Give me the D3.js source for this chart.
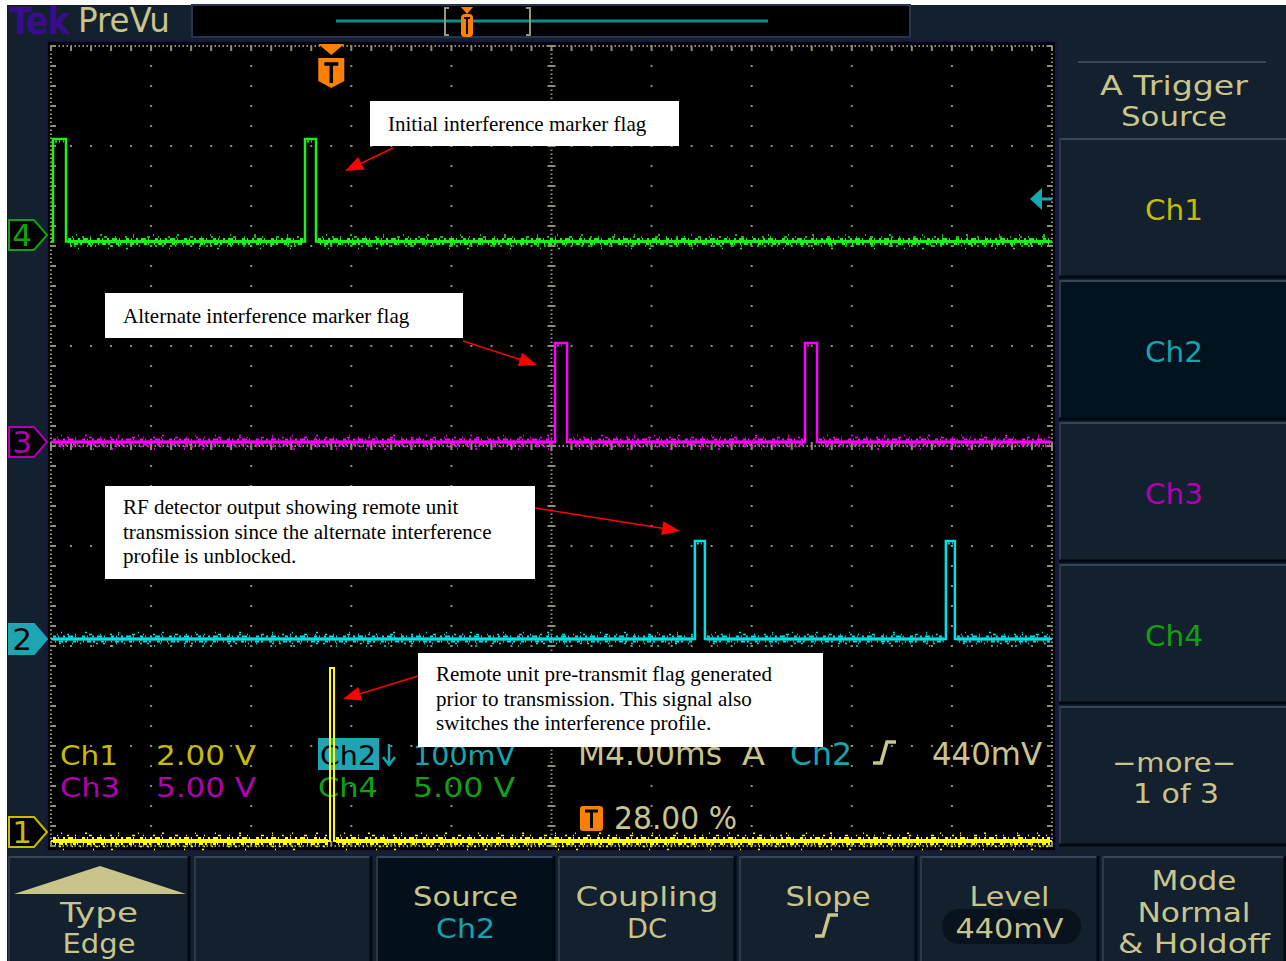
<!DOCTYPE html>
<html><head><meta charset="utf-8">
<script src="https://cdn.jsdelivr.net/npm/d3@7"></script>
<style>
html,body{margin:0;padding:0;background:#fff;}
svg{display:block;}
.tek{font-family:"DejaVu Sans Condensed","DejaVu Sans",sans-serif;font-stretch:condensed;}
.wide{font-family:"DejaVu Sans",Verdana,sans-serif;}
.ann{font-family:"Liberation Serif","Times New Roman",serif;}
</style></head><body>
<svg id="c" width="1286" height="961"></svg>
<script>
// ---------------- data ----------------
const timeDomain = [-11.2, 28.8];           // ms, trigger at t = 0
const channelNames = ["Ch1", "Ch2", "Ch3", "Ch4"];
const voltsPerDiv = [2, 0.1, 5, 5];
const scaleLabels = ["2.00 V", "100mV", "5.00 V", "5.00 V"];
const groundDiv = [-3.86, -1.93, 0.04, 2.11];
const lowVolts = [-0.18, 0.0, 0.0, -0.33];
const highVolts = [3.28, 0.098, 4.95, 4.8];
const ch1Pulses = [[-0.05, 0.11]];
const ch2Pulses = [[14.53, 14.93], [24.56, 24.92]];
const ch3Pulses = [[8.94, 9.42], [18.93, 19.41]];
const ch4Pulses = [[-11.12, -10.60], [-1.05, -0.61]];
const triggerLevelVolts = 0.44;
const triggerPercent = "28.00 %";
const timebaseLabel = "M4.00ms";
const levelLabel = "440mV";
const sideMenu = ["Ch1", "Ch2", "Ch3", "Ch4"];
const bottomMenu = [["Type", "Edge"], [], ["Source", "Ch2"], ["Coupling", "DC"], ["Slope"], ["Level", "440mV"], ["Mode", "Normal", "& Holdoff"]];
const annotationTexts = [
  ["Initial interference marker flag"],
  ["Alternate interference marker flag"],
  ["RF detector output showing remote unit", "transmission since the alternate interference", "profile is unblocked."],
  ["Remote unit pre-transmit flag generated", "prior to transmission.  This signal also", "switches the interference profile."]
];

// ---------------- style / layout ----------------
const colors = {
  trace: ["#ffff00", "#00e0e6", "#ff00ff", "#1ef01e"],
  label: ["#c8bc00", "#16a4ae", "#b000b2", "#12a012"],
  khaki: "#c9c48c", bg: "#13202e", grid: "#8e8e72", orange: "#ff8000"
};
const X0 = 51, X1 = 1052, Y0 = 46, Y1 = 846;
const svg = d3.select("#c");
const xScale = d3.scaleLinear().domain(timeDomain).range([X0, X1]);
const divX = d3.scaleLinear().domain([0, 10]).range([X0, X1]);
const divY = d3.scaleLinear().domain([-4, 4]).range([Y1, Y0]);
const chY = (i, v) => divY(groundDiv[i] + v / voltsPerDiv[i]);

function txt(sel, x, y, s, o) {
  const t = sel.append("text").attr("x", x).attr("y", y).text(s);
  if (o.size) t.attr("font-size", o.size);
  if (o.fill) t.attr("fill", o.fill);
  if (o.anchor) t.attr("text-anchor", o.anchor);
  if (o.w) t.attr("textLength", o.w).attr("lengthAdjust", "spacingAndGlyphs");
  return t;
}

// background
svg.append("rect").attr("width", 1286).attr("height", 961).attr("fill", "#fff");
svg.append("rect").attr("x", 7).attr("y", 5).attr("width", 1279).attr("height", 956).attr("fill", colors.bg);

// top bar
svg.append("text").attr("class", "tek").attr("x", 9).attr("y", 34).attr("font-size", 37).attr("font-weight", "bold")
  .attr("fill", "#3a0c8e").attr("letter-spacing", -1).text("Tek");
txt(svg.append("g").attr("class", "tek"), 78, 32, "PreVu", { size: 33, fill: colors.khaki, w: 92 });
svg.append("rect").attr("x", 192).attr("y", 5).attr("width", 718).attr("height", 32).attr("fill", "#000").attr("stroke", "#26364a").attr("stroke-width", 2);
svg.append("line").attr("x1", 336).attr("x2", 768).attr("y1", 21).attr("y2", 21).attr("stroke", "#0d8c8c").attr("stroke-width", 3);
svg.append("path").attr("d", "M449,8 L445,8 L445,35 L449,35 M526,8 L530,8 L530,35 L526,35").attr("fill", "none").attr("stroke", "#9a9672").attr("stroke-width", 2);
svg.append("path").attr("d", "M461,7 L473,7 L467,14 Z").attr("fill", colors.orange);
svg.append("rect").attr("x", 461).attr("y", 14).attr("width", 12).attr("height", 23).attr("rx", 4).attr("fill", colors.orange);
svg.append("path").attr("d", "M464,18 L470,18 M467,18 L467,34").attr("stroke", "#000").attr("stroke-width", 2);

// plot area
svg.append("rect").attr("x", X0 - 4).attr("y", Y0 - 5).attr("width", X1 - X0 + 8).attr("height", Y1 - Y0 + 10)
  .attr("fill", "#000").attr("stroke", "#161640").attr("stroke-width", 2);

// grid
const g = svg.append("g").attr("fill", colors.grid);
const sub = d3.range(0, 40.001, 1);
d3.range(1, 10).forEach(i => {
  if (i === 5) return;
  sub.forEach(k => g.append("rect").attr("x", divX(i) - 1).attr("y", divY(-4 + k * 0.2) - 1).attr("width", 2).attr("height", 2));
});
const subX = d3.range(0, 50.001, 1);
d3.range(-3, 4).forEach(j => {
  if (j === 0) return;
  subX.forEach(k => g.append("rect").attr("x", divX(k * 0.2) - 1).attr("y", divY(j) - 1).attr("width", 2).attr("height", 2));
});
d3.range(Y0, Y1 + 1, 4).forEach(y => {
  [divX(5), X0, X1].forEach(x => g.append("rect").attr("x", x - 1).attr("y", y - 0.5).attr("width", 2).attr("height", 1.5));
});
d3.range(X0, X1 + 1, 4).forEach(x => {
  [divY(0), Y0, Y1].forEach(y => g.append("rect").attr("x", x - 0.5).attr("y", y - 1).attr("width", 1.5).attr("height", 2));
});
sub.forEach(k => {
  const y = divY(-4 + k * 0.2);
  g.append("rect").attr("x", divX(5) - 4).attr("y", y - 1).attr("width", 8).attr("height", 2);
  g.append("rect").attr("x", X0).attr("y", y - 1).attr("width", 5).attr("height", 2);
  g.append("rect").attr("x", X1 - 5).attr("y", y - 1).attr("width", 5).attr("height", 2);
});
subX.forEach(k => {
  const x = divX(k * 0.2);
  g.append("rect").attr("x", x - 1).attr("y", divY(0) - 4).attr("width", 2).attr("height", 8);
  g.append("rect").attr("x", x - 1).attr("y", Y0).attr("width", 2).attr("height", 5);
  g.append("rect").attr("x", x - 1).attr("y", Y1 - 5).attr("width", 2).attr("height", 5);
});

// readouts
const ro = svg.append("g").attr("class", "tek").attr("font-size", 27.4);
txt(ro, 60, 765, channelNames[0], { fill: colors.label[0], w: 58 });
txt(ro, 60, 797, channelNames[2], { fill: colors.label[2], w: 60 });
txt(ro, 156, 765, scaleLabels[0], { fill: colors.label[0], w: 100 });
txt(ro, 156, 797, scaleLabels[2], { fill: colors.label[2], w: 100 });
ro.append("rect").attr("x", 318).attr("y", 738).attr("width", 61).attr("height", 32).attr("fill", "#1ea4b2");
txt(ro, 320, 765, channelNames[1], { fill: "#000", w: 56 });
txt(ro, 318, 797, channelNames[3], { fill: colors.label[3], w: 60 });
ro.append("path").attr("d", "M389,744 L389,764 M383,757 L389,765 L395,757").attr("fill", "none").attr("stroke", colors.label[1]).attr("stroke-width", 2.5);
txt(ro, 413, 765, scaleLabels[1], { fill: colors.label[1], w: 102 });
txt(ro, 413, 797, scaleLabels[3], { fill: colors.label[3], w: 102 });
const ro2 = svg.append("g").attr("class", "tek").attr("font-size", 32);
txt(ro2, 578, 765, timebaseLabel, { fill: colors.khaki, w: 144 });
txt(ro2, 742, 765, "A", { fill: colors.khaki, w: 23 });
txt(ro2, 790, 765, channelNames[1], { fill: colors.label[1], w: 62 });
ro2.append("path").attr("d", "M873,763 L881,763 L887,742 L896,742").attr("fill", "none").attr("stroke", colors.khaki).attr("stroke-width", 3.5);
txt(ro2, 932, 765, levelLabel, { fill: colors.khaki, w: 110 });
ro2.append("rect").attr("x", 580).attr("y", 806).attr("width", 23).attr("height", 25).attr("rx", 3).attr("fill", colors.orange);
ro2.append("path").attr("d", "M585,811 L598,811 M591.5,811 L591.5,828").attr("stroke", "#000").attr("stroke-width", 3);
txt(ro2, 614, 829, triggerPercent, { fill: colors.khaki, w: 123 });

// traces
const pulses = [ch1Pulses, ch2Pulses, ch3Pulses, ch4Pulses];
const line = d3.line();
// noise band styling: [offset px, stroke width, dash pattern]
const noiseStyle = [
  [-2.5, 2, "3 2 1 4 2 3 5 2 1 6"], [2.5, 2, "1 3 4 2 2 6 3 1 1 5"],
  [-4.5, 1.5, "1 9 2 6 1 13 3 8"], [4.5, 1.5, "2 11 1 7 1 15 2 5"],
  [-6.5, 1.5, "1 23 2 31 1 19"], [7, 1.5, "1 29 1 17 2 41"]
];
pulses.forEach((pl, i) => {
  const pts = [[timeDomain[0], lowVolts[i]]];
  pl.forEach(([a, b]) => { pts.push([a, lowVolts[i]], [a, highVolts[i]], [b, highVolts[i]], [b, lowVolts[i]]); });
  pts.push([timeDomain[1], lowVolts[i]]);
  const xy = pts.map(d => [xScale(d[0]), chY(i, d[1])]);
  svg.append("path").attr("d", line(xy)).attr("fill", "none").attr("stroke", colors.trace[i])
    .attr("stroke-width", i === 0 ? 2 : 2.5).attr("stroke-linejoin", "miter");
  const edges = [timeDomain[0]].concat(pl.flat()).concat([timeDomain[1]]);
  const amp = i === 0 ? 1.2 : 1;
  for (let k = 0; k < edges.length; k += 2) {
    const xa = xScale(edges[k]) + 2, xb = xScale(edges[k + 1]) - 2;
    if (xb - xa < 4) continue;
    const y = chY(i, lowVolts[i]);
    svg.append("line").attr("x1", xa).attr("x2", xb).attr("y1", y).attr("y2", y).attr("stroke", colors.trace[i]).attr("stroke-width", i === 0 ? 4 : 3);
    noiseStyle.forEach(([off, sw, da], m) => {
      svg.append("line").attr("x1", xa + m * 2).attr("x2", xb).attr("y1", y + off * amp).attr("y2", y + off * amp)
        .attr("stroke", colors.trace[i]).attr("stroke-width", sw).attr("stroke-dasharray", da);
    });
  }
  // slight ripple on pulse tops
  pl.forEach(([a, b]) => {
    const xa = xScale(a) + 2, xb = xScale(b) - 2, y = chY(i, highVolts[i]);
    if (xb - xa < 3) return;
    svg.append("line").attr("x1", xa).attr("x2", xb).attr("y1", y + 2.5).attr("y2", y + 2.5).attr("stroke", colors.trace[i])
      .attr("stroke-width", 2).attr("stroke-dasharray", "2 2 1 3");
  });
});

// ground markers
const markerPath = (y) => `M9,${y - 15} L34,${y - 15} L47,${y} L34,${y + 15} L9,${y + 15} Z`;
[3, 2, 1, 0].forEach(i => {
  const y = divY(groundDiv[i]);
  const filled = i === 1;
  svg.append("path").attr("d", markerPath(y)).attr("fill", filled ? "#1ea4b2" : "#000")
    .attr("stroke", filled ? "#1ea4b2" : colors.label[i]).attr("stroke-width", 2);
  svg.append("text").attr("class", "wide").attr("x", 22).attr("y", y + 11).attr("text-anchor", "middle").attr("font-size", 31)
    .attr("fill", filled ? "#000" : colors.label[i]).text(String(i + 1));
});

// trigger position marker
const tx = xScale(0);
svg.append("path").attr("d", `M${tx - 13},${Y0 - 2} L${tx + 13},${Y0 - 2} L${tx},${Y0 + 9} Z`).attr("fill", colors.orange);
svg.append("path").attr("d", `M${tx - 13},${Y0 + 12} L${tx + 13},${Y0 + 12} L${tx + 13},${Y0 + 35} L${tx},${Y0 + 42} L${tx - 13},${Y0 + 35} Z`).attr("fill", colors.orange);
svg.append("path").attr("d", `M${tx - 7},${Y0 + 18} L${tx + 7},${Y0 + 18} M${tx},${Y0 + 18} L${tx},${Y0 + 37}`).attr("stroke", "#000").attr("stroke-width", 3.5);

// trigger level marker (Ch2)
const ty = chY(1, triggerLevelVolts);
svg.append("path").attr("d", `M${X1 - 22},${ty} L${X1 - 10},${ty - 11} L${X1 - 10},${ty + 11} Z`).attr("fill", "#18a8b4");
svg.append("line").attr("x1", X1 - 12).attr("x2", X1).attr("y1", ty).attr("y2", ty).attr("stroke", "#18a8b4").attr("stroke-width", 3);

// right-side menu
const rm = svg.append("g").attr("class", "wide").attr("text-anchor", "middle");
rm.append("line").attr("x1", 1078).attr("x2", 1266).attr("y1", 62).attr("y2", 62).attr("stroke", "#3a4656").attr("stroke-width", 2);
txt(rm, 1174, 95, "A Trigger", { size: 26.5, fill: colors.khaki, w: 148 });
txt(rm, 1174, 126, "Source", { size: 26.5, fill: colors.khaki, w: 106 });
const sideTop = [138, 280, 422, 564, 706];
sideMenu.concat(["more"]).forEach((lab, k) => {
  const y = sideTop[k];
  rm.append("rect").attr("x", 1059).attr("y", y).attr("width", 227).attr("height", 139).attr("fill", k === 1 ? "#00131f" : "#13202e");
  rm.append("line").attr("x1", 1059).attr("x2", 1286).attr("y1", y + 1).attr("y2", y + 1).attr("stroke", "#34465a").attr("stroke-width", 2);
  rm.append("line").attr("x1", 1060).attr("x2", 1060).attr("y1", y).attr("y2", y + 139).attr("stroke", "#2a3a4c").attr("stroke-width", 2);
  rm.append("line").attr("x1", 1059).attr("x2", 1286).attr("y1", y + 139).attr("y2", y + 139).attr("stroke", "#000814").attr("stroke-width", 3);
  if (k < 4) {
    txt(rm, 1174, y + 82, lab, { size: 29, fill: colors.label[k], w: 58 });
  } else {
    txt(rm, 1174, y + 66, "\u2212more\u2212", { size: 26.5, fill: colors.khaki, w: 124 });
    txt(rm, 1176, y + 97, "1 of 3", { size: 26.5, fill: colors.khaki, w: 86 });
  }
});

// bottom menu
const bm = svg.append("g").attr("class", "tek").attr("font-size", 27).attr("text-anchor", "middle").attr("fill", colors.khaki);
const bx = [[8, 190], [194, 372], [376, 555], [558, 736], [739, 917], [920, 1099], [1102, 1286]];
const labelWidths = [[78, 73], [], [105, 59], [143, 40], [85], [80, 108], [85, 113, 152]];
bx.forEach(([a, b], k) => {
  const cx = (a + b) / 2;
  bm.append("rect").attr("x", a).attr("y", 856).attr("width", b - a).attr("height", 105).attr("fill", k === 2 ? "#03101c" : "#13202e");
  bm.append("line").attr("x1", a).attr("x2", b).attr("y1", 857).attr("y2", 857).attr("stroke", "#34465a").attr("stroke-width", 2);
  bm.append("line").attr("x1", a + 1).attr("x2", a + 1).attr("y1", 856).attr("y2", 961).attr("stroke", "#2a3a4c").attr("stroke-width", 2);
  bm.append("line").attr("x1", b - 1).attr("x2", b - 1).attr("y1", 856).attr("y2", 961).attr("stroke", "#000814").attr("stroke-width", 3);
  const lab = bottomMenu[k], ws = labelWidths[k];
  let ys;
  if (k === 0) {
    bm.append("path").attr("d", `M14,894 L186,894 L100,866 Z`).attr("fill", colors.khaki);
    ys = [922, 953];
  } else if (k === 6) {
    ys = [890, 921.5, 953];
  } else {
    ys = [906, 938];
  }
  if (k === 5) bm.append("rect").attr("x", 942).attr("y", 909).attr("width", 139).attr("height", 35).attr("rx", 17).attr("fill", "#08131e");
  if (k === 4) bm.append("path").attr("d", `M${cx - 13},936 L${cx - 5},936 L${cx + 1},915 L${cx + 10},915`).attr("fill", "none").attr("stroke", colors.khaki).attr("stroke-width", 3.5);
  lab.forEach((s, j) => txt(bm, cx, ys[j], s, { w: ws[j], fill: (k === 2 && j === 1) ? colors.label[1] : null }));
});

// annotations
const annBoxes = [[370, 101, 309, 45], [105, 293, 358, 45], [105, 486, 430, 93], [418, 653, 405, 94]];
const annArrows = [[393, 148, 345, 171], [463, 341, 537, 365], [535, 508, 680, 531], [418, 676, 343, 699]];
const an = svg.append("g").attr("class", "ann").attr("font-size", 21).attr("fill", "#000");
annBoxes.forEach(([x, y, w, h], k) => {
  an.append("rect").attr("x", x).attr("y", y).attr("width", w).attr("height", h).attr("fill", "#fff");
  annotationTexts[k].forEach((s, j) => txt(an, x + 18, y + (k >= 2 ? 28 : 30) + j * 24.5, s, {}));
  const [x1, y1, x2, y2] = annArrows[k];
  const ang = Math.atan2(y2 - y1, x2 - x1), L = 18, W = 7;
  const bxp = x2 - L * Math.cos(ang), byp = y2 - L * Math.sin(ang);
  an.append("line").attr("x1", x1).attr("y1", y1).attr("x2", bxp).attr("y2", byp).attr("stroke", "#ff0000").attr("stroke-width", 1.5);
  an.append("path").attr("d", `M${x2},${y2} L${bxp + W * Math.sin(ang)},${byp - W * Math.cos(ang)} L${bxp - W * Math.sin(ang)},${byp + W * Math.cos(ang)} Z`).attr("fill", "#ff0000");
});
</script>
</body></html>
